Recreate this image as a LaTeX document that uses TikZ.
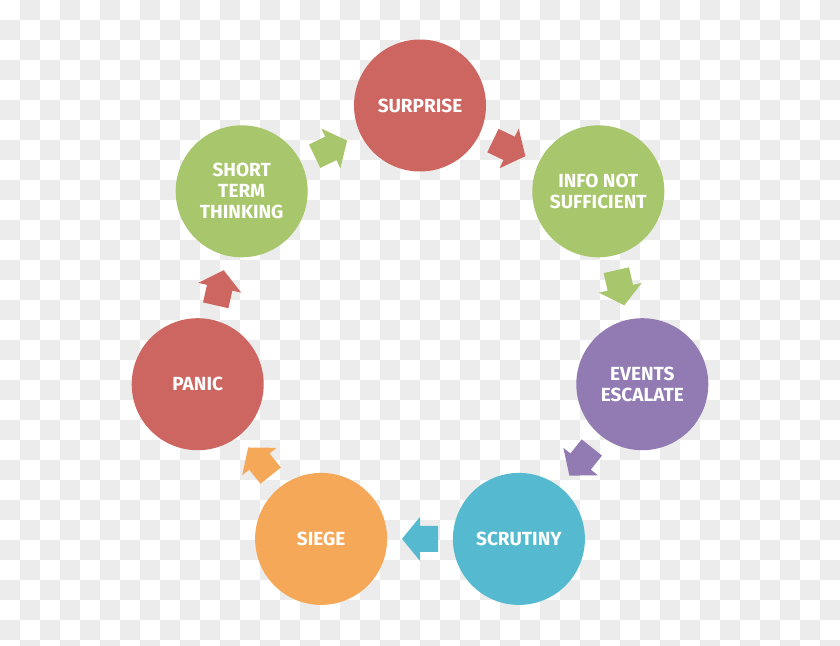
\documentclass[tikz,border=0pt]{standalone}
\usepackage{fontspec}
\setmainfont{Fira Sans}
\usetikzlibrary{calc}
\definecolor{cred}{RGB}{205,102,96}
\definecolor{cgreen}{RGB}{168,198,108}
\definecolor{cpurple}{RGB}{145,123,178}
\definecolor{cblue}{RGB}{85,186,208}
\definecolor{corange}{RGB}{245,168,88}
\definecolor{checker}{RGB}{236,236,236}
\tikzset{
  stage/.style={circle, minimum size=132pt, inner sep=0pt, text=white,
    font=\fontsize{19}{21}\selectfont\bfseries, align=center}
}
\newcommand{\blockarr}[3]{%
  \fill[#1, shift={#2}, rotate=#3]
    (-18,-13) -- (0,-13) -- (0,-22) -- (18,0) -- (0,22) -- (0,13) -- (-18,13) -- cycle;}
\begin{document}
\begin{tikzpicture}[x=1pt,y=-1pt]
\useasboundingbox (0,0) rectangle (840,645);
\begin{scope}
\clip (0,0) rectangle (840,645);
\fill[white] (0,0) rectangle (840,645);
\foreach \j in {0,2,...,32} \foreach \i in {1,3,...,41}
  \fill[checker] (\i*20,\j*20) rectangle ++(20,20);
\foreach \j in {1,3,...,31} \foreach \i in {0,2,...,40}
  \fill[checker] (\i*20,\j*20) rectangle ++(20,20);
\end{scope}

\node[stage, fill=cred]    (s1) at (420,105.5) {SURPRISE};
\node[stage, fill=cgreen]  (s2) at (598.3,191.3) {INFO NOT\\SUFFICIENT};
\node[stage, fill=cpurple] (s3) at (642.3,384.2) {EVENTS\\ESCALATE};
\node[stage, fill=cblue]   (s4) at (518.9,538.9) {SCRUTINY};
\node[stage, fill=corange] (s5) at (321.1,538.9) {SIEGE};
\node[stage, fill=cred]    (s6) at (197.7,384.2) {PANIC};
\node[stage, fill=cgreen]  (s7) at (241.7,191.3) {SHORT\\TERM\\THINKING};

\blockarr{cred}{($(s1)!0.5!(s2)$)}{-25.71}
\blockarr{cgreen}{($(s2)!0.5!(s3)$)}{-77.14}
\blockarr{cpurple}{($(s3)!0.5!(s4)$)}{-128.57}
\blockarr{cblue}{($(s4)!0.5!(s5)$)}{180}
\blockarr{corange}{($(s5)!0.5!(s6)$)}{128.57}
\blockarr{cred}{($(s6)!0.5!(s7)$)}{77.14}
\blockarr{cgreen}{($(s7)!0.5!(s1)$)}{25.71}
\end{tikzpicture}
\end{document}
